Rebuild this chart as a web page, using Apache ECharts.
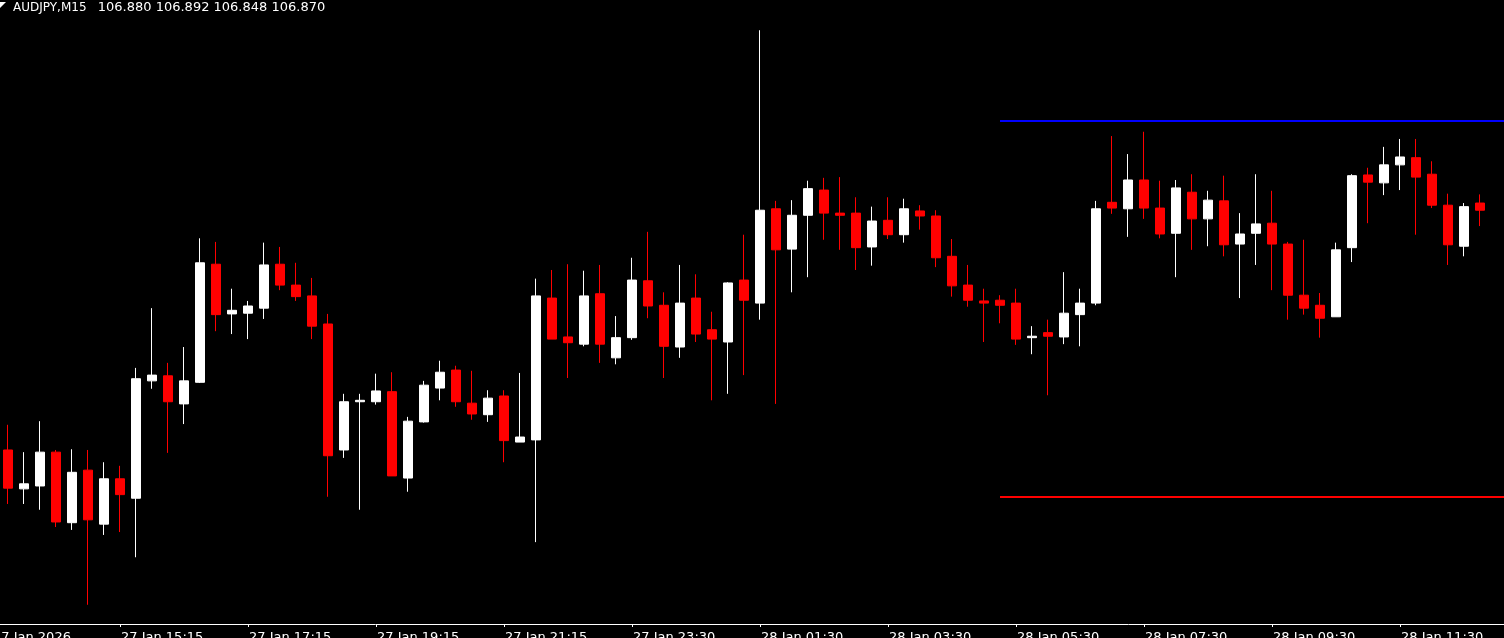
<!DOCTYPE html>
<html>
<head>
<meta charset="utf-8">
<script src="https://cdn.jsdelivr.net/npm/echarts@6/dist/echarts.min.js"></script>
<style>
html,body{margin:0;padding:0;background:#000;}
#chart{width:1504px;height:638px;}
</style>
</head>
<body>
<div id="chart"></div>
<script>
const symbol = 'AUDJPY';
const timeframe = 'M15';

// candles: [open, close, low, high]
const candles = [
  [106.537,106.484,106.462,106.572],
  [106.483,106.490,106.462,106.534],
  [106.487,106.534,106.454,106.577],
  [106.534,106.437,106.430,106.537],
  [106.436,106.506,106.426,106.538],
  [106.509,106.440,106.322,106.537],
  [106.434,106.497,106.419,106.520],
  [106.497,106.475,106.423,106.515],
  [106.470,106.636,106.388,106.651],
  [106.633,106.641,106.622,106.734],
  [106.640,106.604,106.533,106.658],
  [106.601,106.633,106.573,106.680],
  [106.631,106.797,106.630,106.831],
  [106.795,106.725,106.702,106.826],
  [106.726,106.731,106.698,106.761],
  [106.727,106.737,106.691,106.744],
  [106.734,106.794,106.719,106.825],
  [106.795,106.766,106.759,106.819],
  [106.766,106.750,106.744,106.797],
  [106.751,106.709,106.691,106.776],
  [106.712,106.529,106.472,106.726],
  [106.537,106.604,106.526,106.615],
  [106.604,106.606,106.454,106.615],
  [106.604,106.619,106.600,106.643],
  [106.618,106.501,106.501,106.645],
  [106.498,106.577,106.479,106.583],
  [106.576,106.627,106.575,106.633],
  [106.623,106.645,106.606,106.661],
  [106.648,106.604,106.597,106.654],
  [106.602,106.587,106.579,106.647],
  [106.586,106.609,106.576,106.620],
  [106.612,106.550,106.520,106.620],
  [106.548,106.555,106.548,106.644],
  [106.551,106.751,106.409,106.775],
  [106.748,106.691,106.691,106.787],
  [106.694,106.686,106.637,106.795],
  [106.684,106.751,106.681,106.786],
  [106.754,106.684,106.658,106.794],
  [106.665,106.693,106.656,106.723],
  [106.693,106.773,106.690,106.804],
  [106.772,106.737,106.720,106.840],
  [106.738,106.681,106.637,106.756],
  [106.680,106.741,106.665,106.794],
  [106.748,106.698,106.687,106.781],
  [106.704,106.691,106.606,106.729],
  [106.687,106.769,106.615,106.770],
  [106.773,106.745,106.641,106.836],
  [106.741,106.870,106.718,107.120],
  [106.872,106.815,106.601,106.883],
  [106.816,106.863,106.756,106.884],
  [106.863,106.900,106.777,106.911],
  [106.898,106.866,106.829,106.915],
  [106.866,106.863,106.815,106.916],
  [106.866,106.818,106.787,106.888],
  [106.819,106.855,106.793,106.875],
  [106.856,106.836,106.830,106.888],
  [106.836,106.872,106.825,106.886],
  [106.869,106.862,106.843,106.877],
  [106.862,106.804,106.791,106.870],
  [106.806,106.765,106.750,106.830],
  [106.766,106.745,106.736,106.794],
  [106.744,106.741,106.687,106.761],
  [106.745,106.738,106.713,106.752],
  [106.741,106.691,106.683,106.761],
  [106.693,106.695,106.670,106.709],
  [106.700,106.695,106.613,106.718],
  [106.694,106.727,106.684,106.784],
  [106.725,106.741,106.681,106.761],
  [106.741,106.872,106.738,106.883],
  [106.881,106.873,106.865,106.973],
  [106.872,106.912,106.833,106.948],
  [106.912,106.873,106.858,106.979],
  [106.873,106.837,106.831,106.911],
  [106.838,106.901,106.777,106.912],
  [106.895,106.858,106.815,106.920],
  [106.858,106.884,106.820,106.897],
  [106.883,106.822,106.806,106.918],
  [106.823,106.837,106.748,106.866],
  [106.838,106.851,106.794,106.920],
  [106.852,106.823,106.759,106.897],
  [106.823,106.752,106.718,106.826],
  [106.752,106.734,106.725,106.829],
  [106.738,106.720,106.693,106.755],
  [106.722,106.815,106.722,106.825],
  [106.818,106.918,106.798,106.920],
  [106.919,106.909,106.852,106.929],
  [106.908,106.933,106.891,106.958],
  [106.933,106.944,106.898,106.969],
  [106.943,106.916,106.836,106.969],
  [106.920,106.877,106.873,106.938],
  [106.877,106.822,106.794,106.893],
  [106.820,106.875,106.806,106.880],
  [106.880,106.870,106.848,106.892]
];

// time-axis tick labels (one every 8 bars, the first one before the first bar)
const tickLabels = ['27 Jan 2026','27 Jan 15:15','27 Jan 17:15','27 Jan 19:15','27 Jan 21:15','27 Jan 23:30',
                    '28 Jan 01:30','28 Jan 03:30','28 Jan 05:30','28 Jan 07:30','28 Jan 09:30','28 Jan 11:30'];
const tickEvery = 8;

// horizontal price levels drawn from a given bar to the right edge
const levelPrices = [106.994, 106.472];
const levelColors = ['#0000ff', '#ff0000'];
const levelStartBar = 62;

// price window of the visible chart
const priceMax = 107.162;
const priceMin = 106.2953;

// ---- build library tables ----
const lead = 1;     // one empty slot before the first bar (carries the first date label)
const trail = 2;    // empty slots after the last bar
const total = lead + candles.length + trail;
const categories = [];
const labelAt = {};
for (let i = 0; i < total; i++) categories.push('c' + i);
tickLabels.forEach((t, j) => { labelAt[j * tickEvery] = t; });
const seriesData = [];
for (let i = 0; i < lead; i++) seriesData.push('-');
candles.forEach(c => seriesData.push(c));
for (let i = 0; i < trail; i++) seriesData.push('-');

const last = candles[candles.length - 1];
const ohlcText = [last[0], last[3], last[2], last[1]].map(v => v.toFixed(3)).join(' ');

const markLines = levelPrices.map((p, i) => [
  { coord: [lead + levelStartBar, p], lineStyle: { color: levelColors[i], width: 2, type: 'solid' } },
  { coord: [total - 1, p] }
]);

const chart = echarts.init(document.getElementById('chart'), null, { renderer: 'canvas' });
chart.setOption({
  backgroundColor: '#000000',
  animation: false,
  title: {
    text: '{a|' + symbol + ',' + timeframe + '}{b|  ' + ohlcText + '}',
    left: 13, top: 1, padding: 0,
    textStyle: {
      color: '#ffffff', fontSize: 12, fontWeight: 'normal', fontFamily: 'DejaVu Sans',
      rich: {
        a: { color: '#ffffff', fontSize: 12, fontFamily: 'DejaVu Sans', padding: [0, 3, 0, 0] },
        b: { color: '#ffffff', fontSize: 13, fontFamily: 'DejaVu Sans' }
      }
    }
  },
  graphic: [{
    type: 'polygon',
    left: 0, top: 2,
    shape: { points: [[0, 0], [6, 0], [0, 6]] },
    style: { fill: '#ffffff' }
  }],
  grid: { left: -16, right: -16, top: 0, bottom: 14, outerBoundsMode: 'none', containLabel: false },
  xAxis: {
    type: 'category',
    data: categories,
    boundaryGap: true,
    axisLine: { show: true, lineStyle: { color: '#ffffff', width: 1 } },
    axisTick: {
      show: true, alignWithLabel: true, length: 3,
      interval: (idx) => labelAt[idx] !== undefined,
      lineStyle: { color: '#ffffff' }
    },
    axisLabel: {
      interval: (idx) => labelAt[idx] !== undefined,
      formatter: (v, idx) => labelAt[idx] || '',
      align: 'left',
      color: '#ffffff',
      fontSize: 13,
      fontFamily: 'DejaVu Sans',
      margin: 7,
      padding: [0, 0, 0, 1],
      hideOverlap: false
    },
    splitLine: { show: false }
  },
  yAxis: {
    type: 'value',
    min: priceMin, max: priceMax,
    show: false,
    splitLine: { show: false }
  },
  series: [{
    type: 'candlestick',
    data: seriesData,
    barWidth: 10,
    itemStyle: {
      color: '#ffffff', color0: '#ff0000',
      borderColor: '#ffffff', borderColor0: '#ff0000',
      borderWidth: 1
    },
    markLine: {
      silent: true,
      symbol: ['none', 'none'],
      label: { show: false },
      data: markLines
    }
  }]
});
</script>
</body>
</html>
